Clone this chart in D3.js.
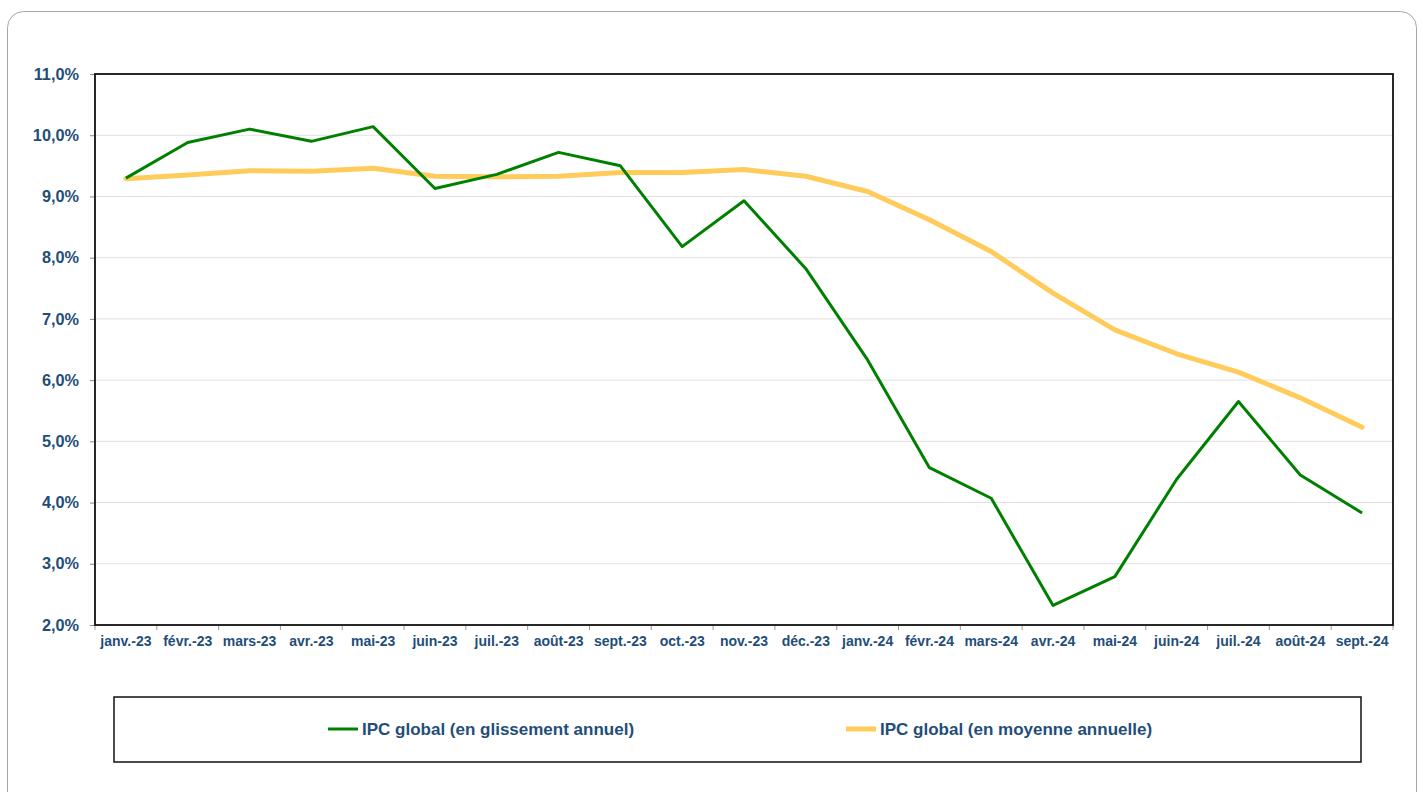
<!DOCTYPE html>
<html><head><meta charset="utf-8">
<script src="https://cdn.jsdelivr.net/npm/d3@7"></script>
<style>body{margin:0;background:#fff;}svg{display:block;font-family:"Liberation Sans",Arial,sans-serif;}</style>
</head><body>
<svg id="c" width="1423" height="792"></svg>
<script>
const categories = ["janv.-23","févr.-23","mars-23","avr.-23","mai-23","juin-23","juil.-23","août-23","sept.-23","oct.-23","nov.-23","déc.-23","janv.-24","févr.-24","mars-24","avr.-24","mai-24","juin-24","juil.-24","août-24","sept.-24"];
const glissement = [9.30,9.88,10.10,9.90,10.14,9.13,9.36,9.72,9.50,8.18,8.93,7.82,6.33,4.57,4.07,2.32,2.79,4.38,5.65,4.45,3.83];
const moyenne = [9.29,9.35,9.42,9.41,9.46,9.33,9.32,9.33,9.39,9.39,9.44,9.33,9.08,8.62,8.10,7.42,6.82,6.43,6.13,5.71,5.23];
const yTicks = [2,3,4,5,6,7,8,9,10,11];
const seriesNames = ["IPC global (en glissement annuel)","IPC global (en moyenne annuelle)"];

const svg = d3.select("#c");
const textCol = "#1F4E79";
const m = {l:95, r:1393, t:74, b:625};

// outer rounded frame
svg.append("rect").attr("x",7.5).attr("y",11.5).attr("width",1409).attr("height",820).attr("rx",16)
  .attr("fill","#fff").attr("stroke","#a6a6a6").attr("stroke-width",1);

const x = d3.scaleBand().domain(categories).range([m.l,m.r]);
const y = d3.scaleLinear().domain([2,11]).range([m.b,m.t]);

// gridlines
svg.append("g").selectAll("line").data(yTicks.slice(1,-1)).join("line")
  .attr("x1",m.l).attr("x2",m.r).attr("y1",d=>y(d)).attr("y2",d=>y(d))
  .attr("stroke","#e0e0e0").attr("stroke-width",1);

// y axis
const yAxis = svg.append("g").attr("transform",`translate(${m.l},0)`)
  .call(d3.axisLeft(y).tickValues(yTicks).tickSize(5).tickPadding(11)
    .tickFormat(d=>d3.format(".1f")(d).replace(".",",")+"%"));
yAxis.select(".domain").remove();
yAxis.selectAll(".tick line").attr("stroke","#888");
yAxis.selectAll("text").attr("fill",textCol).attr("font-size",16.3).attr("font-weight","bold")
  .attr("font-family","'Liberation Sans',Arial,sans-serif");

// x axis
const xAxis = svg.append("g").attr("transform",`translate(0,${m.b})`)
  .call(d3.axisBottom(x).tickSize(0).tickPadding(11));
xAxis.select(".domain").remove();
xAxis.selectAll("text").attr("fill",textCol).attr("font-size",14).attr("font-weight","bold")
  .attr("font-family","'Liberation Sans',Arial,sans-serif");
// boundary ticks
const bounds = categories.map(c=>x(c)).concat([m.r]);
svg.append("g").selectAll("line").data(bounds).join("line")
  .attr("x1",d=>d).attr("x2",d=>d).attr("y1",m.b).attr("y2",m.b+5)
  .attr("stroke","#999").attr("stroke-width",1);

// plot border
svg.append("rect").attr("x",m.l).attr("y",m.t).attr("width",m.r-m.l).attr("height",m.b-m.t)
  .attr("fill","none").attr("stroke","#111").attr("stroke-width",1.8);

const cx = c=>x(c)+x.bandwidth()/2;
const line = d3.line().x((d,i)=>cx(categories[i])).y(d=>y(d));

svg.append("path").datum(moyenne).attr("d",line).attr("fill","none")
  .attr("stroke","#FFCC5C").attr("stroke-width",5).attr("stroke-linejoin","round").attr("stroke-linecap","round");
svg.append("path").datum(glissement).attr("d",line).attr("fill","none")
  .attr("stroke","#008000").attr("stroke-width",3).attr("stroke-linejoin","round");

// legend
svg.append("rect").attr("x",114).attr("y",697).attr("width",1247).attr("height",65)
  .attr("fill","#fff").attr("stroke","#111").attr("stroke-width",1.5);
const leg = [{x:328, col:"#008000", w:3},{x:846, col:"#FFCC5C", w:5}];
leg.forEach((l,i)=>{
  svg.append("line").attr("x1",l.x).attr("x2",l.x+30).attr("y1",729).attr("y2",729)
    .attr("stroke",l.col).attr("stroke-width",l.w);
  svg.append("text").attr("x",l.x+34).attr("y",735).text(seriesNames[i])
    .attr("fill",textCol).attr("font-size",17).attr("font-weight","bold");
});
</script>
</body></html>
